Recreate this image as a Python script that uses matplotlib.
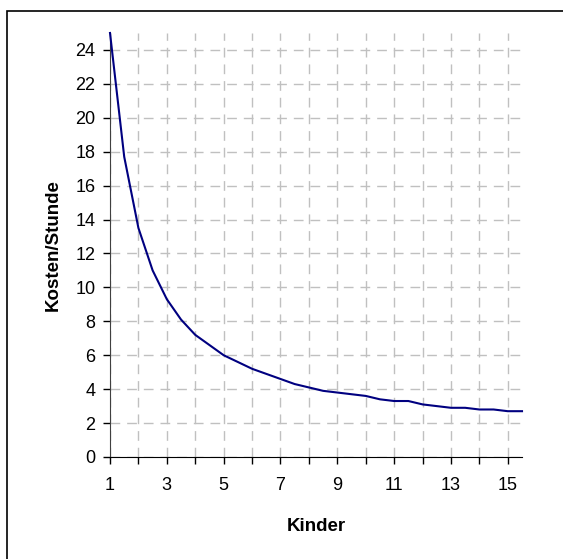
import matplotlib
matplotlib.use("Agg")
import matplotlib.pyplot as plt
from matplotlib.patches import Rectangle
from matplotlib.ticker import MultipleLocator

plt.rcParams['font.family'] = ['Liberation Sans', 'DejaVu Sans']

# Kosten pro Stunde in Abhängigkeit von der Anzahl der Kinder
kinder = [1, 1.5, 2, 2.5, 3, 3.5, 4, 4.5, 5, 5.5, 6, 6.5, 7, 7.5, 8,
          8.5, 9, 9.5, 10, 10.5, 11, 11.5, 12, 12.5, 13, 13.5, 14, 14.5, 15, 15.5]
kosten = [25.0, 17.7, 13.5, 11.0, 9.3, 8.1, 7.2, 6.6, 6.0, 5.6, 5.2, 4.9, 4.6, 4.3, 4.1,
          3.9, 3.8, 3.7, 3.6, 3.4, 3.3, 3.3, 3.1, 3.0, 2.9, 2.9, 2.8, 2.8, 2.7, 2.7]
x_ticks = [1, 3, 5, 7, 9, 11, 13, 15]
y_ticks = list(range(0, 25, 2))

fig = plt.figure(figsize=(5.63, 5.59), dpi=100)
ax = fig.add_axes([0.1954, 0.1825, 0.7318, 0.7585])

ax.plot(kinder, kosten, color='#000080', lw=1.5, clip_on=False, zorder=3)

ax.set_xlim(1, 15.5)
ax.set_ylim(0, 25)
ax.set_xticks(x_ticks)
ax.set_yticks(y_ticks)
ax.xaxis.set_minor_locator(MultipleLocator(1))

# gestrichelte Gitterlinien
ax.grid(True, which='both', axis='x', color='#c0c0c0', lw=1.0, linestyle=(0, (7, 5)))
ax.grid(True, which='major', axis='y', color='#c0c0c0', lw=1.0, linestyle=(0, (7, 5)))
ax.set_axisbelow(True)

for side in ('top', 'right'):
    ax.spines[side].set_visible(False)
ax.spines['left'].set_color('#404040')
ax.spines['bottom'].set_color('black')

ax.tick_params(axis='both', which='both', direction='out', length=5, width=1,
               labelsize=13, color='black')
ax.tick_params(axis='y', which='major', pad=5.5)
ax.tick_params(axis='x', which='major', pad=9.5)

ax.set_xlabel('Kinder', fontsize=13.5, fontweight='bold', labelpad=17)
ax.set_ylabel('Kosten/Stunde', fontsize=13.5, fontweight='bold', labelpad=10)

# Rahmen um die Grafik
fig.patches.append(Rectangle((7 / 563, -0.1), 1.2, 1 - 10.5 / 559 + 0.1,
                             transform=fig.transFigure, fill=False,
                             edgecolor='black', lw=1.2))

fig.savefig('out.png', dpi=100)
